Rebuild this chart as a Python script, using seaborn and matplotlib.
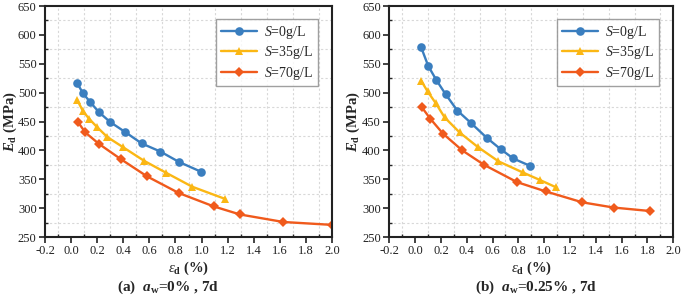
import numpy as np
import pandas as pd
import matplotlib
matplotlib.use("Agg")
import matplotlib.pyplot as plt
from matplotlib.ticker import MultipleLocator
import seaborn as sns

# ---- data ----
series_labels = ["$S$=0g/L", "$S$=35g/L", "$S$=70g/L"]

x0a = [0.045, 0.091, 0.145, 0.214, 0.300, 0.413, 0.541, 0.684, 0.827, 0.996]
y0a = [517, 499, 484, 466, 449, 432, 412, 398, 380, 363]
x35a = [0.045, 0.091, 0.137, 0.196, 0.278, 0.395, 0.559, 0.730, 0.929, 1.180]
y35a = [488, 468, 455, 441, 423, 406, 382, 361, 337, 316]
x70a = [0.050, 0.109, 0.215, 0.380, 0.582, 0.827, 1.093, 1.295, 1.627, 2.000]
y70a = [450, 431, 411, 385, 355, 326, 303, 289, 276, 271]

x0b = [0.046, 0.102, 0.164, 0.237, 0.327, 0.430, 0.554, 0.663, 0.760, 0.892]
y0b = [579, 546, 522, 497, 469, 448, 422, 402, 386, 373]
x35b = [0.046, 0.097, 0.159, 0.229, 0.345, 0.485, 0.646, 0.832, 0.964, 1.093]
y35b = [521, 502, 482, 457, 431, 406, 381, 362, 349, 336]
x70b = [0.051, 0.117, 0.216, 0.365, 0.534, 0.790, 1.011, 1.296, 1.538, 1.820]
y70b = [475, 455, 429, 400, 375, 345, 329, 310, 301, 295]

captions = [r"(a)  $\mathbfit{a}_\mathbf{w}$=0% , 7d", r"(b)  $\mathbfit{a}_\mathbf{w}$=0.25% , 7d"]

xticks = [-0.2, 0.0, 0.2, 0.4, 0.6, 0.8, 1.0, 1.2, 1.4, 1.6, 1.8, 2.0]
yticks = [250, 300, 350, 400, 450, 500, 550, 600, 650]

colors = ["#3A7EBF", "#FBB714", "#F05A1C"]
markers = ["o", "^", "D"]


def build(xs, ys):
    frames = []
    for lab, x, y in zip(series_labels, xs, ys):
        frames.append(pd.DataFrame({"x": x, "y": y, "S": lab}))
    return pd.concat(frames, ignore_index=True)


df_a = build([x0a, x35a, x70a], [y0a, y35a, y70a])
df_b = build([x0b, x35b, x70b], [y0b, y35b, y70b])

sns.set_style("ticks")
plt.rcParams["font.family"] = ["Liberation Serif", "DejaVu Serif"]
plt.rcParams["mathtext.fontset"] = "custom"
plt.rcParams["mathtext.rm"] = "Liberation Serif"
plt.rcParams["mathtext.it"] = "Liberation Serif:italic"
plt.rcParams["mathtext.bf"] = "Liberation Serif:bold"
plt.rcParams["mathtext.bfit"] = "Liberation Serif:italic:bold"

fig = plt.figure(figsize=(6.85, 2.96), dpi=100)
ax_a = fig.add_axes([0.0657, 0.1993, 0.419, 0.7804])
ax_b = fig.add_axes([0.5683, 0.1993, 0.4146, 0.7804])

pal = dict(zip(series_labels, colors))
mk = dict(zip(series_labels, markers))

for ax, df, cap, cx, ylx in [(ax_a, df_a, captions[0], 0.245, -0.122),
                             (ax_b, df_b, captions[1], 0.782, -0.127)]:
    sns.lineplot(data=df, x="x", y="y", hue="S", style="S", palette=pal,
                 markers=mk, dashes=False, sort=False, ax=ax,
                 linewidth=1.7, markersize=6.2, markeredgewidth=0)
    for ln in ax.get_lines():
        if ln.get_marker() == "D":
            ln.set_markersize(5.2)
    ax.set_xlim(-0.2, 2.0)
    ax.set_ylim(250, 650)
    ax.set_xticks(xticks)
    ax.set_xticklabels([f"{t:.1f}" for t in xticks])
    ax.set_yticks(yticks)
    ax.xaxis.set_minor_locator(MultipleLocator(0.1))
    ax.yaxis.set_minor_locator(MultipleLocator(25))
    ax.tick_params(axis="both", which="major", direction="out", length=4, width=1.2,
                   labelsize=9, colors="#222222", pad=2)
    ax.tick_params(axis="both", which="minor", direction="in", length=2.5, width=1.0)
    ax.grid(which="minor", linestyle=(0, (2, 2)), color="#d8d8d8", linewidth=0.8)
    ax.grid(which="major", visible=False)
    for sp in ax.spines.values():
        sp.set_linewidth(1.5)
        sp.set_color("#222222")
    ax.set_xlabel(r"$\varepsilon_\mathbf{d}$ (%)", fontsize=10.5, fontweight="bold")
    ax.set_ylabel(r"$\mathbfit{E}_\mathbf{d}$ (MPa)", fontsize=10.5, fontweight="bold")
    ax.xaxis.set_label_coords(0.5, -0.134)
    ax.yaxis.set_label_coords(ylx, 0.5)
    ax.xaxis.label.set_va("center")
    ax.yaxis.label.set_va("center")
    leg = ax.legend(loc="upper right", bbox_to_anchor=(0.95, 0.945), fontsize=10,
                    frameon=True, fancybox=False, shadow=False, handlelength=2.6,
                    borderpad=0.35, labelspacing=0.25, handletextpad=0.5,
                    borderaxespad=0)
    for h in leg.legend_handles:
        if h.get_marker() == "D":
            h.set_markersize(5.2)
    leg.get_frame().set_edgecolor("#888888")
    leg.get_frame().set_linewidth(1.0)
    fig.text(cx, 0.03, cap, ha="center", va="center", fontsize=11, fontweight="bold")

fig.savefig("out.png", dpi=100)
